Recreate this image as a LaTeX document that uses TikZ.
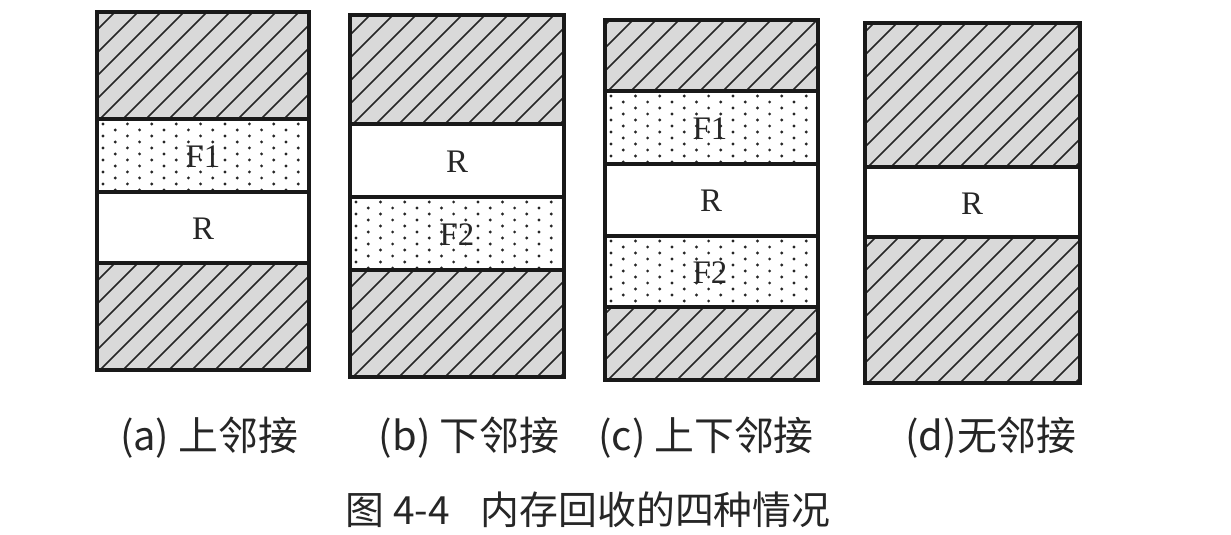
\documentclass[tikz,border=0pt]{standalone}
\usepackage{fontspec}
\setmainfont{Liberation Serif}
\newfontfamily\cjk{Noto Sans CJK SC}
\tikzset{
  frame/.style={draw=black!90, line width=3.6bp},
  hatchfill/.style={fill=black!15},
  hline/.style={line width=1.7bp, draw=black!85},
  lab/.style={font=\fontsize{33}{38}\selectfont, inner sep=0pt, text=black!85},
  subtext/.style={font=\cjk\fontsize{40}{46}\selectfont, inner sep=0pt, text=black!85},
  captext/.style={font=\cjk\fontsize{39}{45}\selectfont, inner sep=0pt, text=black!85}
}
\newcommand\hatchband[4]{%
  \fill[hatchfill] (#1,#2) rectangle (#3,#4);
  \begin{scope}
    \clip (#1,#2) rectangle (#3,#4);
    \foreach \kk in {0,...,22} { \draw[hline] ({#1-250+\kk*23},#4) -- ++(250,-250); }
  \end{scope}}
\newcommand\dotband[4]{%
  \begin{scope}
    \clip (#1,#2) rectangle (#3,#4);
    \foreach \ii in {0,...,18} { \foreach \jj in {0,...,7} {
      \fill[black!85] ({#1+6+\ii*12.2},{#2+5+\jj*12+mod(\ii,2)*6}) circle (1.6);
    } }
  \end{scope}}
\begin{document}
\begin{tikzpicture}[x=1bp,y=-1bp]
\useasboundingbox (0,0) rectangle (1231,535);
\fill[white] (0,0) rectangle (1231,535);

% (a)
\hatchband{97}{12}{309}{119}
\dotband{97}{119}{309}{192}
\hatchband{97}{263}{309}{370}
\draw[frame] (97,12) rectangle (309,370);
\draw[frame] (97,119) -- (309,119);
\draw[frame] (97,192) -- (309,192);
\draw[frame] (97,263) -- (309,263);
\node[lab] (aF) at (203,157) {F1};
\node[lab] (aR) at (203,229) {R};

% (b)
\hatchband{350}{15}{564}{124}
\dotband{350}{197}{564}{270}
\hatchband{350}{270}{564}{377}
\draw[frame] (350,15) rectangle (564,377);
\draw[frame] (350,124) -- (564,124);
\draw[frame] (350,197) -- (564,197);
\draw[frame] (350,270) -- (564,270);
\node[lab] (bR) at (457,162) {R};
\node[lab] (bF) at (457,235) {F2};

% (c)
\hatchband{605}{20}{818}{91}
\dotband{605}{91}{818}{164}
\dotband{605}{236}{818}{307}
\hatchband{605}{307}{818}{380}
\draw[frame] (605,20) rectangle (818,380);
\draw[frame] (605,91) -- (818,91);
\draw[frame] (605,164) -- (818,164);
\draw[frame] (605,236) -- (818,236);
\draw[frame] (605,307) -- (818,307);
\node[lab] (cF) at (710,129) {F1};
\node[lab] (cR) at (711,201) {R};
\node[lab] (cG) at (710,273) {F2};

% (d)
\hatchband{865}{23}{1080}{167}
\hatchband{865}{237}{1080}{383}
\draw[frame] (865,23) rectangle (1080,383);
\draw[frame] (865,167) -- (1080,167);
\draw[frame] (865,237) -- (1080,237);
\node[lab] (dR) at (972,204) {R};

% captions
\node[subtext] (sa) at (209,438) {(a) 上邻接};
\node[subtext] (sb) at (469,438) {(b) 下邻接};
\node[subtext] (sc) at (706,438) {(c) 上下邻接};
\node[subtext] (sd) at (991,438) {(d)无邻接};
\node[captext] (cap) at (588,510) {图 4-4\hspace{0.8em}内存回收的四种情况};
\end{tikzpicture}
\end{document}
